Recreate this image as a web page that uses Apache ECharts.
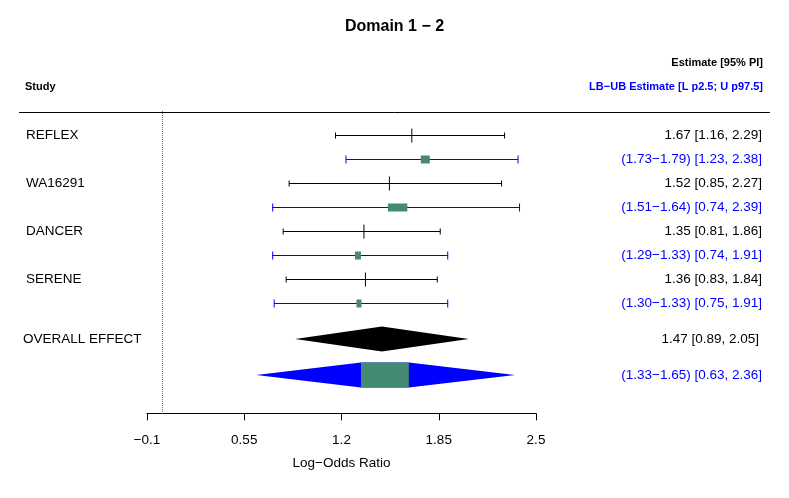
<!DOCTYPE html>
<html>
<head>
<meta charset="utf-8">
<title>Domain 1 - 2</title>
<script src="https://cdn.jsdelivr.net/npm/echarts@6/dist/echarts.min.js"></script>
<style>
    html, body { margin: 0; padding: 0; background: #fff; }
    #forest { width: 789px; height: 498px; }
</style>
</head>
<body>
<div id="forest"></div>
<script>
// study level numbers (log-odds ratio)
var studies = ['REFLEX', 'WA16291', 'DANCER', 'SERENE'];
var estMid = [1.67, 1.52, 1.35, 1.36];
var ciLow = [1.16, 0.85, 0.81, 0.83];
var ciHigh = [2.29, 2.27, 1.86, 1.84];
// LB-UB estimate box and prediction interval
var boxLow = [1.73, 1.51, 1.29, 1.30];
var boxHigh = [1.79, 1.64, 1.33, 1.33];
var piLow = [1.23, 0.74, 0.74, 0.75];
var piHigh = [2.38, 2.39, 1.91, 1.91];

var overallLabel = 'OVERALL EFFECT';
var overallEst = [1.47, 0.89, 2.05];        // est, low, high
var overallBox = [1.33, 1.65, 0.63, 2.36];  // box low, box high, low, high

var xTicks = [-0.1, 0.55, 1.2, 1.85, 2.5];

var FONT = 'Liberation Sans';
var BLUE = '#0000ff';
var GREEN = '#458b74';
var MINUS = '\u2212';

function f2(v) { return v.toFixed(2); }
function crisp(y) { return Math.round(y) + 0.5; }

// row positions (one unit = one text line)
function rowEst(i) { return 1 + 2 * i; }
function rowPI(i) { return 2 + 2 * i; }
var rowOverall = 9.5;
var rowOverallPI = 11;

var ciData = [], piData = [], textRows = [];
for (var i = 0; i < studies.length; i++) {
    ciData.push([ciLow[i], ciHigh[i], estMid[i], rowEst(i)]);
    piData.push([piLow[i], piHigh[i], boxLow[i], boxHigh[i], rowPI(i)]);
    textRows.push({ y: rowEst(i), left: studies[i], right: f2(estMid[i]) + ' [' + f2(ciLow[i]) + ', ' + f2(ciHigh[i]) + ']', color: '#000', lx: 26, rx: 762 });
    textRows.push({ y: rowPI(i), left: '', right: '(' + f2(boxLow[i]) + MINUS + f2(boxHigh[i]) + ') [' + f2(piLow[i]) + ', ' + f2(piHigh[i]) + ']', color: BLUE, lx: 26, rx: 762 });
}
textRows.push({ y: rowOverall, left: overallLabel, right: f2(overallEst[0]) + ' [' + f2(overallEst[1]) + ', ' + f2(overallEst[2]) + ']', color: '#000', lx: 23, rx: 759 });
textRows.push({ y: rowOverallPI, left: '', right: '(' + f2(overallBox[0]) + MINUS + f2(overallBox[1]) + ') [' + f2(overallBox[2]) + ', ' + f2(overallBox[3]) + ']', color: BLUE, lx: 23, rx: 762 });

function seg(x1, y1, x2, y2, color) {
    return { type: 'line', shape: { x1: x1, y1: y1, x2: x2, y2: y2 }, style: { stroke: color, lineWidth: 1 } };
}

var myChart = echarts.init(document.getElementById('forest'));

var option = {
    backgroundColor: '#fff',
    animation: false,
    textStyle: { fontFamily: FONT },
    title: {
        text: 'Domain 1 ' + MINUS + ' 2',
        left: 'center',
        top: 19,
        padding: 0,
        textStyle: { fontFamily: FONT, fontSize: 16, fontWeight: 'bold', color: '#000' }
    },
    grid: { left: 147, right: 253, top: 111, height: 302.4 },
    xAxis: {
        type: 'value',
        position: 'bottom',
        min: -0.1,
        max: 2.5,
        name: 'Log' + MINUS + 'Odds Ratio',
        nameLocation: 'middle',
        nameGap: 43,
        nameTextStyle: { fontFamily: FONT, fontSize: 13.5, color: '#000' },
        axisLine: { onZero: false, lineStyle: { color: '#000', width: 1 } },
        axisTick: { length: 7, lineStyle: { color: '#000' }, customValues: xTicks },
        axisLabel: {
            customValues: xTicks,
            fontFamily: FONT, fontSize: 13.5, color: '#000', margin: 20,
            formatter: function (v) { return String(v).replace('-', MINUS); }
        },
        splitLine: { show: false }
    },
    yAxis: { type: 'value', inverse: true, min: 0, max: 12.6, show: false },
    graphic: [
        { type: 'line', shape: { x1: 19, y1: 112.5, x2: 770, y2: 112.5 }, style: { stroke: '#000', lineWidth: 1 } },
        { type: 'text', x: 763, y: 63, style: { text: 'Estimate [95% PI]', align: 'right', verticalAlign: 'middle', font: 'bold 11px "' + FONT + '"', fill: '#000' } },
        { type: 'text', x: 25, y: 87, style: { text: 'Study', align: 'left', verticalAlign: 'middle', font: 'bold 11px "' + FONT + '"', fill: '#000' } },
        { type: 'text', x: 763, y: 87, style: { text: 'LB' + MINUS + 'UB Estimate [L p2.5; U p97.5]', align: 'right', verticalAlign: 'middle', font: 'bold 11px "' + FONT + '"', fill: BLUE } }
    ],
    series: [
        {
            name: 'CI',
            type: 'custom',
            data: ciData,
            renderItem: function (params, api) {
                var y = api.value(3);
                var lo = api.coord([api.value(0), y]);
                var hi = api.coord([api.value(1), y]);
                var mid = api.coord([api.value(2), y]);
                var yy = crisp(lo[1]);
                return {
                    type: 'group',
                    children: [
                        seg(lo[0], yy, hi[0], yy, '#000'),
                        seg(lo[0], yy - 3, lo[0], yy + 3, '#000'),
                        seg(hi[0], yy - 3, hi[0], yy + 3, '#000'),
                        seg(mid[0], yy - 7, mid[0], yy + 7, '#000')
                    ]
                };
            },
            markLine: {
                silent: true,
                symbol: 'none',
                label: { show: false },
                lineStyle: { color: '#777', type: 'dotted', width: 1 },
                data: [{ xAxis: 0 }]
            }
        },
        {
            name: 'PI',
            type: 'custom',
            data: piData,
            renderItem: function (params, api) {
                var y = api.value(4);
                var lo = api.coord([api.value(0), y]);
                var hi = api.coord([api.value(1), y]);
                var bl = api.coord([api.value(2), y]);
                var bh = api.coord([api.value(3), y]);
                var yy = crisp(lo[1]);
                return {
                    type: 'group',
                    children: [
                        seg(lo[0], yy, hi[0], yy, BLUE),
                        seg(lo[0], yy - 4, lo[0], yy + 4, BLUE),
                        seg(hi[0], yy - 4, hi[0], yy + 4, BLUE),
                        { type: 'rect', shape: { x: bl[0], y: yy - 4, width: Math.max(bh[0] - bl[0], 5), height: 8 }, style: { fill: GREEN } }
                    ]
                };
            }
        },
        {
            name: 'Overall',
            type: 'custom',
            data: [[overallEst[1], overallEst[0], overallEst[2], rowOverall]],
            renderItem: function (params, api) {
                var y = api.value(3);
                var lo = api.coord([api.value(0), y]);
                var est = api.coord([api.value(1), y]);
                var hi = api.coord([api.value(2), y]);
                var h = 12.5;
                return {
                    type: 'polygon',
                    shape: { points: [[lo[0], lo[1]], [est[0], lo[1] - h], [hi[0], lo[1]], [est[0], lo[1] + h]] },
                    style: { fill: '#000' }
                };
            }
        },
        {
            name: 'Overall PI',
            type: 'custom',
            data: [[overallBox[2], overallBox[0], overallBox[1], overallBox[3], rowOverallPI]],
            renderItem: function (params, api) {
                var y = api.value(4);
                var lo = api.coord([api.value(0), y]);
                var bl = api.coord([api.value(1), y]);
                var bh = api.coord([api.value(2), y]);
                var hi = api.coord([api.value(3), y]);
                var c = lo[1], h = 12.5;
                return {
                    type: 'group',
                    children: [
                        {
                            type: 'polygon',
                            shape: { points: [[lo[0], c], [bl[0], c - h], [bh[0], c - h], [hi[0], c], [bh[0], c + h], [bl[0], c + h]] },
                            style: { fill: BLUE }
                        },
                        { type: 'rect', shape: { x: bl[0], y: c - h, width: bh[0] - bl[0], height: 2 * h }, style: { fill: GREEN } }
                    ]
                };
            }
        },
        {
            name: 'Labels',
            type: 'custom',
            silent: true,
            data: textRows.map(function (r) { return [0, r.y]; }),
            renderItem: function (params, api) {
                var r = textRows[params.dataIndex];
                var p = api.coord([0, api.value(1)]);
                var kids = [];
                if (r.left) {
                    kids.push({ type: 'text', x: r.lx, y: p[1], style: { text: r.left, align: 'left', verticalAlign: 'middle', font: '13.5px "' + FONT + '"', fill: '#000' } });
                }
                kids.push({ type: 'text', x: r.rx, y: p[1], style: { text: r.right, align: 'right', verticalAlign: 'middle', font: '13.5px "' + FONT + '"', fill: r.color } });
                return { type: 'group', children: kids };
            }
        }
    ]
};

myChart.setOption(option);
</script>
</body>
</html>
